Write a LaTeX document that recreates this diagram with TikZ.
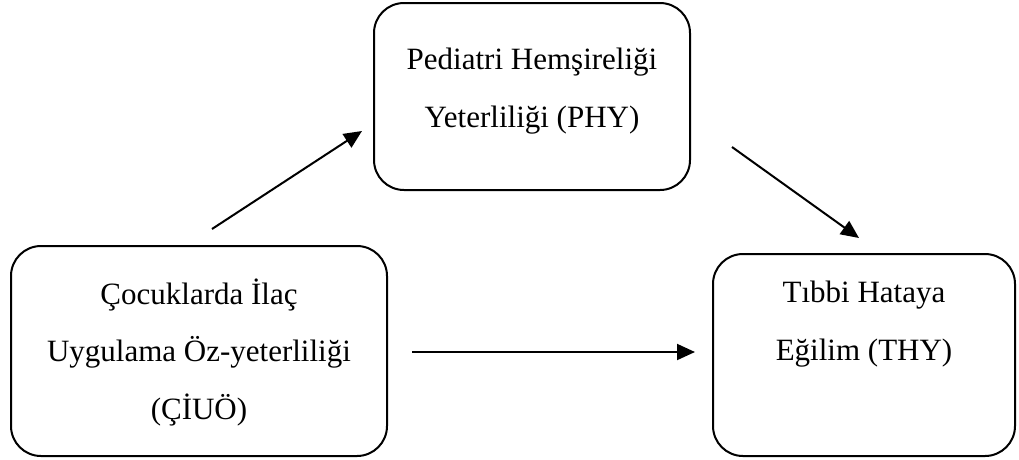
\documentclass[tikz,border=0pt]{standalone}
\usepackage{fontspec}
\setmainfont{Liberation Serif}
\usetikzlibrary{arrows.meta}
\begin{document}
\begin{tikzpicture}[x=1pt,y=-1pt,
  box/.style={draw=black, line width=2pt, rounded corners=30pt, inner sep=0pt},
  txt/.style={align=center, font=\fontsize{31}{57.5}\selectfont, inner sep=0pt},
  arr/.style={line width=2pt, -{Triangle[length=18pt,width=16pt]}}]
\useasboundingbox (0,0) rectangle (1019,459);
\node[box, minimum width=376pt, minimum height=210pt] (c) at (199,351) {};
\node[box, minimum width=316pt, minimum height=187pt] (p) at (532,96.5) {};
\node[box, minimum width=302pt, minimum height=202pt] (t) at (864,355) {};
\node[txt] (ct) at ([yshift=-1pt]c.center)
  {Çocuklarda İlaç\\Uygulama Öz-yeterliliği\\(ÇİUÖ)};
\node[txt] (pt) at ([yshift=5.5pt]p.center)
  {Pediatri Hemşireliği\\Yeterliliği (PHY)};
\node[txt] (tt) at ([yshift=31pt]t.center)
  {Tıbbi Hataya\\Eğilim (THY)};
\coordinate (a1s) at (212,229);
\coordinate (a1e) at (362,131);
\coordinate (a2s) at (732,147);
\coordinate (a2e) at (859,238);
\coordinate (a3s) at (412,352);
\coordinate (a3e) at (695,352);
\draw[arr] (a1s) -- (a1e);
\draw[arr] (a2s) -- (a2e);
\draw[arr] (a3s) -- (a3e);
\end{tikzpicture}
\end{document}
